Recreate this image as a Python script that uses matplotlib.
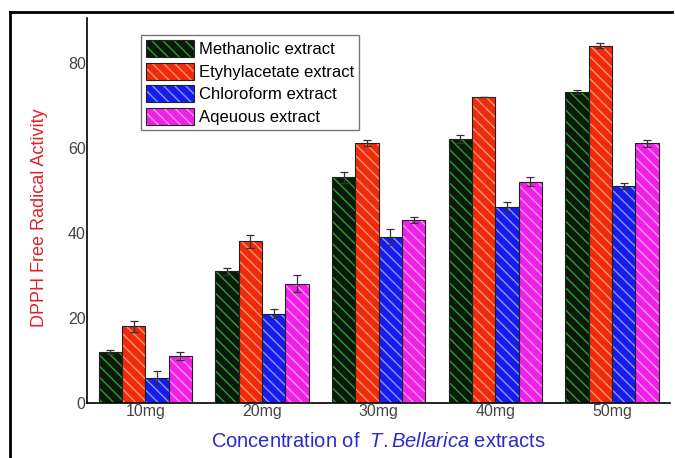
import numpy as np
import matplotlib
matplotlib.use("Agg")
import matplotlib.pyplot as plt
from matplotlib.patches import Patch
from matplotlib.legend_handler import HandlerTuple
from matplotlib.lines import Line2D

plt.rcParams['font.family'] = ['Liberation Sans', 'DejaVu Sans']
plt.rcParams['mathtext.fontset'] = 'custom'
plt.rcParams['mathtext.rm'] = 'Liberation Sans'
plt.rcParams['mathtext.it'] = 'Liberation Sans:italic'
plt.rcParams['hatch.linewidth'] = 1.0

# data
concentrations = ['10mg', '20mg', '30mg', '40mg', '50mg']
series = ['Methanolic extract', 'Etyhylacetate extract', 'Chloroform extract', 'Aqeuous extract']
methanolic = [12, 31, 53, 62, 73]
ethylacetate = [18, 38, 61, 72, 84]
chloroform = [6, 21, 39, 46, 51]
aqueous = [11, 28, 43, 52, 61]
methanolic_err = [0.5, 0.8, 1.2, 1.0, 0.5]
ethylacetate_err = [1.3, 1.5, 0.7, 0.0, 0.5]
chloroform_err = [1.5, 1.0, 1.8, 1.2, 0.8]
aqueous_err = [1.0, 2.0, 0.8, 1.0, 0.8]

values = [methanolic, ethylacetate, chloroform, aqueous]
errors = [methanolic_err, ethylacetate_err, chloroform_err, aqueous_err]
face_colors = ['#0a1a0a', '#f02a0a', '#1a1af0', '#f020e8']
hatch_colors = ['#2f9a2f', '#ff9a70', '#7aa0ff', '#ff9af0']

fig = plt.figure(figsize=(6.75, 4.58), dpi=100)
ax = fig.add_axes([0.129, 0.120, 0.864, 0.841])

x = np.arange(len(concentrations))
w = 0.2
handles = []
for i in range(4):
    pos = x + (i - 1.5) * w
    ax.bar(pos, values[i], w, color=face_colors[i], edgecolor=hatch_colors[i],
           hatch='\\\\\\', linewidth=0, zorder=2)
    ax.bar(pos, values[i], w, facecolor='none', edgecolor='#222222',
           linewidth=0.8, zorder=3)
    ax.errorbar(pos, values[i], yerr=errors[i], fmt='none', ecolor='#333333',
                elinewidth=0.9, capsize=3, capthick=0.9, zorder=4)
    handles.append((Patch(facecolor=face_colors[i], edgecolor=hatch_colors[i],
                          hatch='\\\\\\', linewidth=0),
                    Patch(facecolor='none', edgecolor='#222222', linewidth=0.8)))

ax.set_xlim(-0.5, 4.5)
ax.set_ylim(0, 90.5)
ax.set_yticks([0, 20, 40, 60, 80])
ax.set_xticks(x)
ax.set_xticklabels(concentrations)
ax.tick_params(axis='both', length=0, labelsize=11.5, labelcolor='#444444')
ax.tick_params(axis='y', pad=1)
ax.tick_params(axis='x', pad=1)
ax.spines['top'].set_visible(False)
ax.spines['right'].set_visible(False)
ax.spines['left'].set_linewidth(1.2)
ax.spines['bottom'].set_linewidth(1.2)

ax.set_ylabel('DPPH Free Radical Activity', color='#e0202a', fontsize=13)
ax.yaxis.set_label_coords(-0.067, 0.48)
ax.set_xlabel('Concentration of  $\\mathit{T.Bellarica}$ extracts', color='#2a2ad0',
              fontsize=14.5, labelpad=9)

leg = ax.legend(handles, series, handler_map={tuple: HandlerTuple(ndivide=1)},
                loc='upper left', bbox_to_anchor=(0.092, 0.955), fontsize=12,
                frameon=True, fancybox=False, handlelength=2.9, handleheight=1.2,
                handletextpad=0.3, labelspacing=0.32, borderpad=0.3, borderaxespad=0)
leg.get_frame().set_edgecolor('#555555')
leg.get_frame().set_linewidth(1.0)

# outer frame (top and left edges visible in the reference)
fig.add_artist(Line2D([10 / 675, 10 / 675], [0, 1 - 12 / 458], transform=fig.transFigure,
                      color='black', linewidth=2))
fig.add_artist(Line2D([10 / 675, 672 / 675], [1 - 12 / 458, 1 - 12 / 458],
                      transform=fig.transFigure, color='black', linewidth=2))

fig.savefig('out.png', dpi=100)
